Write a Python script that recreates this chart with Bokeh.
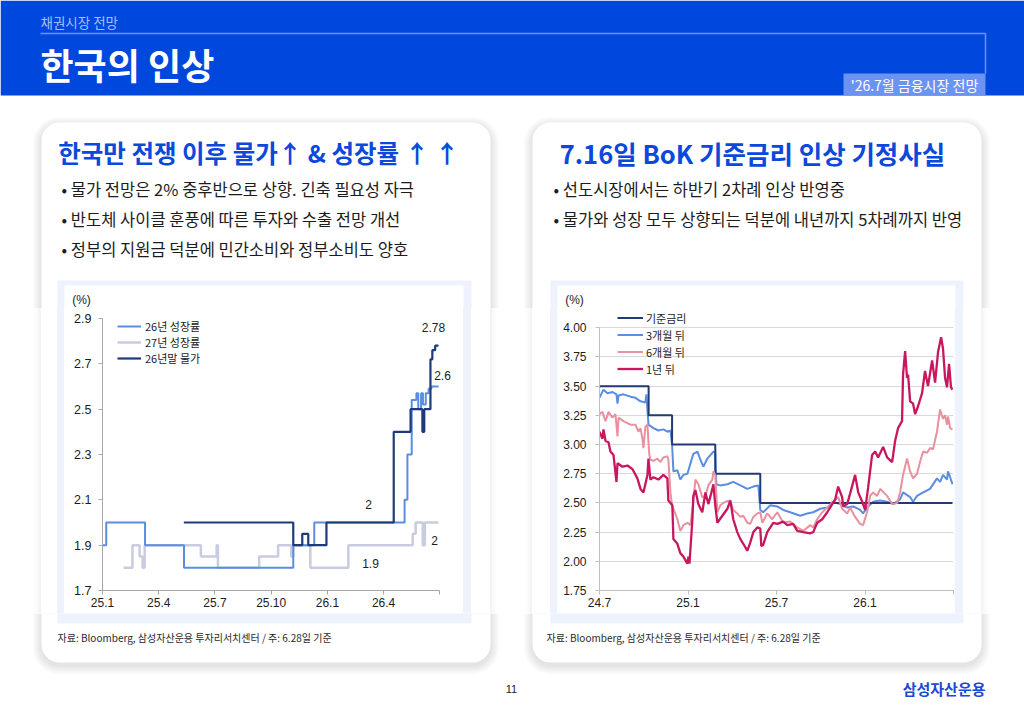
import numpy as np
from bokeh.plotting import figure
from bokeh.layouts import row, column
from bokeh.models import Range1d, FixedTicker, PrintfTickFormatter, Legend, Div
from bokeh.core.properties import value
from bokeh.embed import file_html
from bokeh.resources import INLINE

KR = "Noto Sans CJK KR"
NUM = "Liberation Sans"

# ---------------- left chart: consensus forecasts (x = months since 2025-01) ----------------
gdp26_x = [0.0, 0.2, 2.27, 4.35, 10.18, 11.3, 16.12, 16.27, 16.5, 16.75, 16.85, 17.0, 17.1, 17.25, 17.4, 17.55, 17.93]
gdp26_y = [1.9, 2.0, 1.9, 1.8, 1.9, 2.0, 2.1, 2.3, 2.54, 2.57, 2.5, 2.57, 2.52, 2.57, 2.59, 2.6, 2.6]

gdp27_x = [1.12, 1.6, 1.98, 2.14, 2.25, 5.25, 6.09, 6.16, 8.36, 9.37, 10.07, 10.18, 11.09, 13.12, 16.55, 16.71, 17.09, 17.2, 17.93]
gdp27_y = [1.8, 1.9, 1.85, 1.8, 1.9, 1.85, 1.9, 1.8, 1.85, 1.9, 1.85, 1.9, 1.8, 1.9, 1.95, 2.0, 1.9, 2.0, 2.0]

cpi26_x = [4.34, 10.18, 10.66, 10.98, 11.95, 15.54, 16.44, 17.07, 17.17, 17.5, 17.6, 17.75, 17.93]
cpi26_y = [2.0, 1.9, 1.95, 1.9, 2.0, 2.4, 2.5, 2.4, 2.5, 2.72, 2.76, 2.78, 2.78]

c1_xticks = [0, 3, 6, 9, 12, 15, 18]
c1_xlabels = ["25.1", "25.4", "25.7", "25.10", "26.1", "26.4", ""]
c1_yticks = [1.7, 1.9, 2.1, 2.3, 2.5, 2.7, 2.9]
c1_names = ["26년 성장률", "27년 성장률", "26년말 물가"]

# ---------------- right chart: policy rate and implied forwards (x = months since 2024-07) ----------------
base_x = [0.0, 3.33, 4.92, 7.85, 10.9, 23.93]
base_y = [3.50, 3.25, 3.00, 2.75, 2.50, 2.50]

m3 = [(0.0, 3.40), (0.27, 3.47), (0.54, 3.44), (0.88, 3.45), (1.15, 3.43), (1.22, 3.35), (1.29, 3.42),
      (1.62, 3.43), (2.1, 3.41), (2.44, 3.40), (2.78, 3.37), (3.11, 3.36), (3.18, 3.43), (3.32, 3.17),
      (3.66, 3.14), (3.99, 3.12), (4.33, 3.13), (4.6, 3.11), (4.81, 3.12), (4.92, 3.00), (5.01, 2.77),
      (5.28, 2.78), (5.48, 2.70), (5.69, 2.74), (5.96, 2.75), (6.36, 2.92), (6.64, 2.94), (6.84, 2.87),
      (7.04, 2.81), (7.31, 2.88), (7.52, 2.91), (7.72, 2.94), (7.85, 2.93), (7.92, 2.66), (8.19, 2.65),
      (8.67, 2.66), (9.07, 2.68), (9.55, 2.65), (10.02, 2.62), (10.43, 2.64), (10.77, 2.65), (10.9, 2.44),
      (11.1, 2.42), (11.58, 2.48), (12.05, 2.47), (12.46, 2.44), (12.93, 2.42), (13.61, 2.39), (14.08, 2.41),
      (14.49, 2.42), (14.96, 2.45), (15.44, 2.46), (15.84, 2.51), (16.32, 2.49), (16.79, 2.46), (17.2, 2.47),
      (17.67, 2.44), (17.87, 2.41), (18.14, 2.46), (18.55, 2.51), (19.03, 2.52), (19.5, 2.51), (19.91, 2.49),
      (20.38, 2.53), (20.58, 2.59), (21.06, 2.55), (21.26, 2.51), (21.53, 2.56), (21.94, 2.59), (22.41, 2.62),
      (22.88, 2.71), (23.09, 2.68), (23.29, 2.74), (23.56, 2.70), (23.63, 2.77), (23.77, 2.72), (23.93, 2.66)]

m6 = [(0.0, 3.26), (0.2, 3.28), (0.41, 3.20), (0.61, 3.28), (0.88, 3.23), (1.08, 3.26), (1.22, 3.07),
      (1.29, 3.23), (1.62, 3.20), (2.1, 3.17), (2.44, 3.17), (2.64, 3.11), (2.78, 3.14), (2.91, 3.05),
      (2.98, 2.97), (3.11, 3.15), (3.25, 3.17), (3.32, 3.02), (3.38, 2.91), (3.45, 2.87), (3.66, 2.86),
      (3.93, 2.88), (4.13, 2.85), (4.33, 2.89), (4.6, 2.90), (4.67, 2.87), (4.81, 2.59), (4.94, 2.46),
      (5.01, 2.45), (5.28, 2.36), (5.48, 2.26), (5.69, 2.31), (5.96, 2.33), (6.16, 2.31), (6.36, 2.51),
      (6.5, 2.70), (6.7, 2.66), (6.97, 2.55), (7.18, 2.56), (7.38, 2.65), (7.65, 2.70), (7.72, 2.77),
      (7.85, 2.74), (7.99, 2.42), (8.19, 2.48), (8.53, 2.51), (8.87, 2.52), (9.07, 2.44), (9.34, 2.41),
      (9.55, 2.38), (9.75, 2.39), (10.02, 2.33), (10.22, 2.32), (10.43, 2.38), (10.7, 2.41), (10.9, 2.42),
      (11.04, 2.33), (11.37, 2.41), (11.71, 2.36), (12.05, 2.42), (12.46, 2.33), (12.93, 2.34), (13.41, 2.29),
      (13.81, 2.26), (14.29, 2.31), (14.49, 2.29), (14.76, 2.36), (15.1, 2.42), (15.44, 2.46), (15.84, 2.51),
      (16.18, 2.55), (16.45, 2.45), (16.79, 2.41), (16.99, 2.46), (17.33, 2.38), (17.67, 2.32), (17.87, 2.31),
      (18.14, 2.42), (18.35, 2.56), (18.55, 2.59), (18.82, 2.56), (19.03, 2.62), (19.5, 2.56), (19.84, 2.49),
      (20.18, 2.50), (20.38, 2.59), (20.58, 2.74), (20.85, 2.88), (21.06, 2.77), (21.26, 2.71), (21.53, 2.75),
      (21.73, 2.85), (21.94, 2.94), (22.21, 2.93), (22.41, 2.97), (22.61, 2.96), (22.88, 3.11), (23.09, 3.30),
      (23.29, 3.22), (23.43, 3.25), (23.56, 3.17), (23.63, 3.24), (23.77, 3.14), (23.93, 3.13)]

y1 = [(0.0, 3.11), (0.2, 3.05), (0.27, 3.13), (0.41, 3.03), (0.61, 3.02), (0.74, 2.94), (0.95, 2.91),
      (1.15, 2.68), (1.22, 2.84), (1.56, 2.81), (1.9, 2.82), (2.23, 2.79), (2.57, 2.71), (2.78, 2.62),
      (2.98, 2.59), (3.25, 2.74), (3.32, 2.88), (3.45, 2.70), (3.66, 2.72), (3.99, 2.70), (4.33, 2.74),
      (4.6, 2.71), (4.67, 2.52), (4.94, 2.48), (5.01, 2.19), (5.28, 2.15), (5.48, 2.07), (5.69, 2.04),
      (5.96, 1.98), (6.03, 2.04), (6.1, 1.98), (6.3, 2.36), (6.36, 2.56), (6.5, 2.61), (6.7, 2.49),
      (6.97, 2.42), (7.18, 2.59), (7.38, 2.49), (7.65, 2.62), (7.72, 2.66), (7.85, 2.48), (7.99, 2.33),
      (8.33, 2.39), (8.67, 2.45), (8.87, 2.52), (9.07, 2.36), (9.34, 2.25), (9.55, 2.19), (9.75, 2.15),
      (10.02, 2.09), (10.22, 2.16), (10.43, 2.25), (10.7, 2.29), (10.9, 2.28), (10.97, 2.13), (11.1, 2.14),
      (11.37, 2.25), (11.58, 2.29), (11.78, 2.33), (12.05, 2.32), (12.46, 2.34), (12.73, 2.31), (13.13, 2.32),
      (13.41, 2.26), (13.81, 2.25), (14.29, 2.24), (14.49, 2.25), (14.76, 2.33), (15.1, 2.36), (15.44, 2.42),
      (15.78, 2.49), (15.98, 2.53), (16.18, 2.64), (16.45, 2.55), (16.52, 2.47), (16.79, 2.49), (16.99, 2.58),
      (17.33, 2.74), (17.54, 2.59), (17.81, 2.51), (18.01, 2.44), (18.21, 2.63), (18.48, 2.91), (18.69, 2.94),
      (18.89, 2.89), (19.23, 2.98), (19.5, 2.89), (19.84, 2.85), (20.04, 3.03), (20.24, 3.14), (20.51, 3.20),
      (20.58, 3.60), (20.72, 3.80), (20.85, 3.57), (20.92, 3.60), (21.06, 3.37), (21.26, 3.35), (21.4, 3.26),
      (21.6, 3.33), (21.87, 3.44), (22.07, 3.63), (22.27, 3.50), (22.55, 3.72), (22.75, 3.53), (22.95, 3.79),
      (23.16, 3.92), (23.29, 3.82), (23.43, 3.57), (23.56, 3.49), (23.7, 3.69), (23.83, 3.49), (23.93, 3.47)]

c2_xticks = [0, 6, 12, 18, 24]
c2_xlabels = ["24.7", "25.1", "25.7", "26.1", ""]
c2_yticks = [1.75, 2.0, 2.25, 2.5, 2.75, 3.0, 3.25, 3.5, 3.75, 4.0]
c2_names = ["기준금리", "3개월 뒤", "6개월 뒤", "1년 뒤"]

# ---------------- slide texts ----------------
header_kicker = "채권시장 전망"
header_title = "한국의 인상"
header_tag = "'26.7월 금융시장 전망"
card_titles = ["한국만 전쟁 이후 물가↑  & 성장률 ↑ ↑", "7.16일 BoK 기준금리 인상 기정사실"]
card_bullets = [
    ["물가 전망은 2% 중후반으로 상향. 긴축 필요성 자극",
     "반도체 사이클 훈풍에 따른 투자와 수출 전망 개선",
     "정부의 지원금 덕분에 민간소비와 정부소비도 양호"],
    ["선도시장에서는 하반기 2차례 인상 반영중",
     "물가와 성장 모두 상향되는 덕분에 내년까지 5차례까지 반영"],
]
unit_label = "(%)"
source_note = "자료: Bloomberg, 삼성자산운용 투자리서치센터 / 주: 6.28일 기준"
page_no = "11"
brand = "삼성자산운용"

# ---------------- page geometry (pixels, y downward) ----------------
W, H = 1024, 709
HEAD_H = 95
ROW_TOP, ROW_BOT = 308, 613
CARDS = [(41, 122, 490, 662), (532, 122, 981, 662)]
CARD_R = 18
PANELS = [(57, 280, 471, 623), (550, 280, 963, 623)]
INNERS = [(64, 285, 463, 613), (557, 285, 955, 613)]

HEAD_BLUE = "#0047de"
TAG_BLUE = "#6b93f2"
TITLE_BLUE = "#0b48dc"
PANEL_BG = "#edf2fd"
INK = "#1c1c1c"


def rounded(x0, y0, x1, y1, r, n=10):
    xs, ys = [], []
    corners = [(x1 - r, y0 + r, -90, 0), (x1 - r, y1 - r, 0, 90),
               (x0 + r, y1 - r, 90, 180), (x0 + r, y0 + r, 180, 270)]
    for cx, cy, a0, a1 in corners:
        for a in np.radians(np.linspace(a0, a1, n)):
            xs.append(cx + r * np.cos(a))
            ys.append(cy + r * np.sin(a))
    return xs, ys


def txt(p, x, y, s, size, color, bold=False, align="left", font=KR):
    p.text(x=[x], y=[y], text=[s], text_font=value(font), text_font_size=f"{size}px",
           text_color=color, text_align=align, text_baseline="middle",
           text_font_style="bold" if bold else "normal")


def page_piece(x0, x1, y0, y1):
    """A horizontal slice of the slide background, drawn in page pixel coordinates."""
    p = figure(width=x1 - x0, height=y1 - y0, x_range=Range1d(x0, x1), y_range=Range1d(y1, y0),
               x_axis_type=None, y_axis_type=None, output_backend="svg", toolbar_location=None,
               min_border=0, outline_line_color=None,
               background_fill_color="white", border_fill_color="white")
    p.grid.visible = False
    p.quad(left=[0], right=[W], top=[0], bottom=[HEAD_H], fill_color=HEAD_BLUE, line_color=None)
    for (a, b, c, d) in CARDS:
        for k in range(9, 0, -1):
            xs, ys = rounded(a - k, b - k + 3, c + k, d + k + 3, CARD_R + k)
            p.patch(xs, ys, fill_color="#000000", fill_alpha=0.011, line_color=None)
        xs, ys = rounded(a, b, c, d, CARD_R)
        p.patch(xs, ys, fill_color="white", line_color=None)
    for (a, b, c, d) in PANELS:
        p.quad(left=[a], right=[c], top=[b], bottom=[d], fill_color=PANEL_BG, line_color=None)
    for (a, b, c, d) in INNERS:
        p.quad(left=[a], right=[c], top=[b], bottom=[d], fill_color="white", line_color=None)
    return p


def gutter(x0, x1, y0, y1):
    """Plain HTML strip beside a chart: card edge shadow and the panel border."""
    parts = [f'<div style="position:relative;width:{x1 - x0}px;height:{y1 - y0}px;'
             f'overflow:hidden;background:#ffffff;">']
    for (a, b, c, d) in CARDS:
        parts.append(f'<div style="position:absolute;left:{a - x0}px;top:{b - y0}px;width:{c - a}px;'
                     f'height:{d - b}px;border-radius:{CARD_R}px;background:#ffffff;'
                     f'box-shadow:0 3px 9px rgba(0,0,0,0.11);"></div>')
    for boxes, col in ((PANELS, PANEL_BG), (INNERS, "#ffffff")):
        for (a, b, c, d) in boxes:
            parts.append(f'<div style="position:absolute;left:{a - x0}px;top:{b - y0}px;'
                         f'width:{c - a}px;height:{d - b}px;background:{col};"></div>')
    parts.append("</div>")
    return Div(text="".join(parts), width=x1 - x0, height=y1 - y0, margin=0,
               styles={"overflow": "hidden", "margin": "0", "padding": "0"})


def style_axes(p, axis_color, ysize, ystand):
    for ax in p.axis:
        ax.axis_line_color = axis_color
        ax.major_tick_line_color = axis_color
        ax.minor_tick_line_color = None
        ax.major_tick_in = 0
        ax.major_tick_out = 4
        ax.major_label_text_font = NUM
        ax.major_label_text_color = INK
        ax.major_label_text_font_size = "12px"
        ax.major_label_standoff = 3
    p.yaxis.major_label_text_font_size = f"{ysize}px"
    p.yaxis.major_label_standoff = ystand


# ---------------- top slice: header, card titles, bullets ----------------
top = page_piece(0, W, 0, ROW_TOP)
txt(top, 40, 21, header_kicker, 13.5, "#a9bef6")
top.line([40, 985, 985], [33, 33, 73], line_color=TAG_BLUE, line_width=1.5)
top.quad(left=[843], right=[985], top=[73], bottom=[95], fill_color=TAG_BLUE, line_color=None)
txt(top, 914, 84.5, header_tag, 14, "white", align="center")
txt(top, 40, 63.5, header_title, 36, "white", bold=True)

title_cx = [261, 752]
title_size = [24.5, 25.5]
bullet_x = [61, 553]
for i in range(2):
    txt(top, title_cx[i], 152, card_titles[i], title_size[i], TITLE_BLUE, bold=True, align="center")
    for j, s in enumerate(card_bullets[i]):
        txt(top, bullet_x[i], 188 + 30 * j, "• " + s, 16.5, INK)
txt(top, 81, 299.5, unit_label, 12, INK, align="center", font=NUM)
txt(top, 574, 299.5, unit_label, 12, INK, align="center", font=NUM)

CH_H = ROW_BOT - ROW_TOP

# ---------------- left chart ----------------
C1_GREY, C1_BLUE, C1_NAVY = "#c9cce0", "#5b8de3", "#1f3a78"
c1 = figure(width=INNERS[0][2] - INNERS[0][0], height=CH_H,
            x_range=Range1d(0, 19.05), y_range=Range1d(1.7, 2.944),
            min_border_left=38, min_border_right=4, min_border_top=0, min_border_bottom=23,
            output_backend="svg", toolbar_location=None, outline_line_color=None,
            background_fill_color="white", border_fill_color="white")
c1.grid.visible = False
r27 = c1.step(gdp27_x, gdp27_y, mode="after", line_color=C1_GREY, line_width=2.5)
r26 = c1.step(gdp26_x, gdp26_y, mode="after", line_color=C1_BLUE, line_width=2)
rcp = c1.step(cpi26_x, cpi26_y, mode="after", line_color=C1_NAVY, line_width=2.2)
c1.xaxis.ticker = FixedTicker(ticks=c1_xticks)
c1.xaxis.major_label_overrides = dict(zip(c1_xticks, c1_xlabels))
c1.xaxis.bounds = (c1_xticks[0], c1_xticks[-1])
c1.yaxis.ticker = FixedTicker(ticks=c1_yticks)
c1.yaxis.formatter = PrintfTickFormatter(format="%.1f")
c1.yaxis.bounds = (c1_yticks[0], c1_yticks[-1])
style_axes(c1, "#a6a6a6", 12.5, 7)

leg1 = Legend(items=[(c1_names[0], [r26]), (c1_names[1], [r27]), (c1_names[2], [rcp])],
              location=(15, 224), padding=0, margin=0, spacing=-1, glyph_width=24, glyph_height=14,
              label_height=14, label_standoff=4, label_text_font=KR, label_text_font_size="11px",
              label_text_color=INK, border_line_color=None, background_fill_alpha=0)
c1.add_layout(leg1)

# value callouts, anchored on the series values they describe
lab_x = [cpi26_x[-1], gdp26_x[-1], 14.2, gdp27_x[-1], 14.3]
lab_y = [cpi26_y[-1], gdp26_y[-1], cpi26_y[4], gdp27_y[-1], gdp27_y[13]]
lab_t = [f"{v:g}" for v in lab_y]
c1.text(x=lab_x, y=lab_y, text=lab_t, x_offset=[-5, 4, 0, -4, 0], y_offset=[-18, -11, -18, 18, 18],
        text_font=value(NUM), text_font_size="12px", text_color=INK,
        text_align="center", text_baseline="middle")

# ---------------- right chart ----------------
C2_NAVY, C2_BLUE, C2_PINK, C2_RED = "#203a72", "#5a8de4", "#e8919f", "#c8175f"
c2 = figure(width=INNERS[1][2] - INNERS[1][0], height=CH_H,
            x_range=Range1d(0, 24), y_range=Range1d(1.75, 4.165),
            min_border_left=42, min_border_right=2, min_border_top=0, min_border_bottom=23,
            output_backend="svg", toolbar_location=None, outline_line_color=None,
            background_fill_color="white", border_fill_color="white")
c2.xgrid.visible = False
c2.ygrid.grid_line_color = "#d9d9d9"
c2.ygrid.grid_line_width = 1
m3_x, m3_y = zip(*m3)
m6_x, m6_y = zip(*m6)
y1_x, y1_y = zip(*y1)
rm3 = c2.line(list(m3_x), list(m3_y), line_color=C2_BLUE, line_width=2)
rb = c2.step(base_x, base_y, mode="after", line_color=C2_NAVY, line_width=2)
rm6 = c2.line(list(m6_x), list(m6_y), line_color=C2_PINK, line_width=2)
ry1 = c2.line(list(y1_x), list(y1_y), line_color=C2_RED, line_width=2.3)
c2.xaxis.ticker = FixedTicker(ticks=c2_xticks)
c2.xaxis.major_label_overrides = dict(zip(c2_xticks, c2_xlabels))
c2.yaxis.ticker = FixedTicker(ticks=c2_yticks)
c2.yaxis.formatter = PrintfTickFormatter(format="%.2f")
c2.yaxis.bounds = (c2_yticks[0], c2_yticks[-1])
style_axes(c2, "#bfbfbf", 12, 9)

leg2 = Legend(items=[(c2_names[0], [rb]), (c2_names[1], [rm3]), (c2_names[2], [rm6]), (c2_names[3], [ry1])],
              location=(18, 213), padding=0, margin=0, spacing=0, glyph_width=26, glyph_height=17,
              label_height=17, label_standoff=3, label_text_font=KR, label_text_font_size="11px",
              label_text_color=INK, border_line_color=None, background_fill_alpha=0)
c2.add_layout(leg2)

# ---------------- side strips around the charts ----------------
g1 = gutter(0, INNERS[0][0], ROW_TOP, ROW_BOT)
g2 = gutter(INNERS[0][2], INNERS[1][0], ROW_TOP, ROW_BOT)
g3 = gutter(INNERS[1][2], W, ROW_TOP, ROW_BOT)

# ---------------- bottom slice: sources, page number, brand ----------------
bot = page_piece(0, W, ROW_BOT, H)
txt(bot, 57, 637, source_note, 10, "#2a2a2a")
txt(bot, 546, 637, source_note, 10, "#2a2a2a")
txt(bot, 511, 688, page_no, 11, "#222222", align="center", font=NUM)
txt(bot, 985, 688, brand, 15, "#1a4bd4", bold=True, align="right")

page = column(top, row(g1, c1, g2, c2, g3, spacing=0), bot, spacing=0)
open("out.html", "w").write(file_html(page, INLINE))
